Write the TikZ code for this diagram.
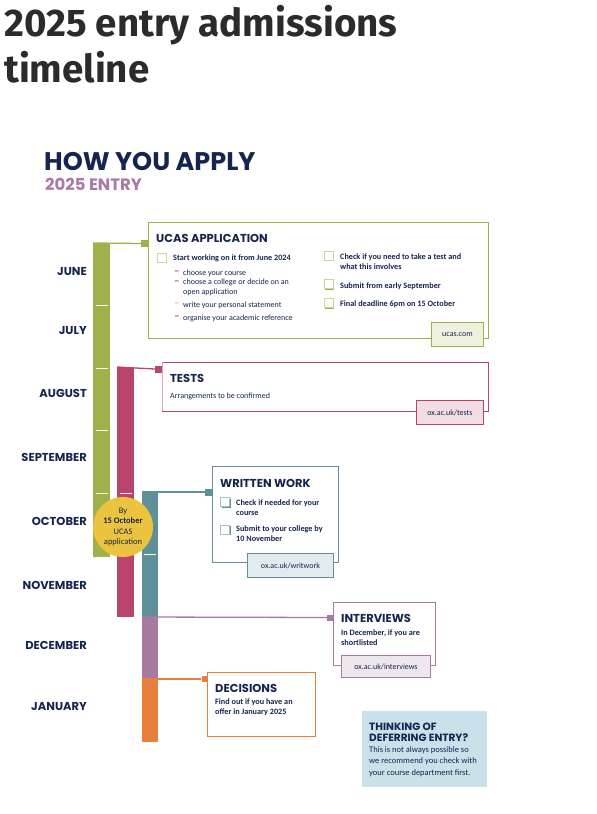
\documentclass[tikz,border=0pt]{standalone}
\usepackage{fontspec}
\setmainfont{Carlito}
\newfontfamily\headfont{Fira Sans}
\newfontfamily\geofont{Poppins}
\usetikzlibrary{positioning,shadows}
\definecolor{OxNavy}{HTML}{16254F}
\definecolor{OxInk}{HTML}{2B2B2B}
\definecolor{OxGreen}{HTML}{A0B04A}
\definecolor{OxRed}{HTML}{B9446E}
\definecolor{OxTeal}{HTML}{5F8F99}
\definecolor{OxMauve}{HTML}{A77AA2}
\definecolor{OxOrange}{HTML}{E67F3A}
\definecolor{OxYellow}{HTML}{EBC33E}
\definecolor{OxSky}{HTML}{CAE1EA}

\begin{document}
\begin{tikzpicture}[x=1pt, y=-1pt,
  month/.style={anchor=east, inner sep=0pt, text=OxNavy, font=\geofont\bfseries\fontsize{11.5}{12}\selectfont},
  bar/.style={fill=#1, anchor=north west, inner sep=0pt, outer sep=0pt},
  tickline/.style={draw=white, line width=0.9pt},
  panel/.style={draw=#1, line width=0.9pt, fill=white, anchor=north west, inner sep=0pt, outer sep=0pt},
  knob/.style={fill=#1, minimum size=7pt, inner sep=0pt},
  link/.style={draw=#1, line width=1.3pt},
  boxtitle/.style={anchor=base west, inner sep=0pt, text=OxNavy, font=\geofont\bfseries\fontsize{11.5}{12}\selectfont},
  body/.style={anchor=west, inner sep=0pt, align=left, text=OxNavy, font=\fontsize{8}{10}\selectfont},
  boldbody/.style={body, font=\bfseries\fontsize{8.2}{10}\selectfont},
  dashmark/.style={anchor=west, inner sep=0pt, text=#1, font=\bfseries\fontsize{11}{10}\selectfont},
  checkbox/.style={draw=#1!55, line width=0.6pt, fill=white, minimum size=9pt, inner sep=0pt,
    drop shadow={shadow xshift=1.4pt, shadow yshift=-1.4pt, fill=#1, opacity=1}},
  tag/.style={draw=#1, line width=0.9pt, fill=#1!18, anchor=north west, inner sep=0pt, text=OxNavy,
    font=\fontsize{8}{10}\selectfont}
]
\useasboundingbox (0,0) rectangle (597,814);

% heading
\node[anchor=base west, inner sep=0pt, text=OxInk, font=\headfont\bfseries\fontsize{38.5}{46}\selectfont] (headA) at (4,36) {2025 entry admissions};
\node[anchor=base west, inner sep=0pt, text=OxInk, font=\headfont\bfseries\fontsize{38.5}{46}\selectfont] (headB) at (4,82) {timeline};
\node[anchor=base west, inner sep=0pt, text=OxNavy, font=\geofont\bfseries\fontsize{25.5}{27}\selectfont] (apply) at (44,170) {HOW YOU APPLY};
\node[anchor=base west, inner sep=0pt, text=OxMauve, font=\geofont\bfseries\fontsize{16.5}{18}\selectfont] (entry) at (45,190.5) {2025 ENTRY};

% months
\node[month] (jun) at (87,271) {JUNE};
\node[month] (jul) at (87,330) {JULY};
\node[month] (aug) at (87,393) {AUGUST};
\node[month] (sep) at (87,457) {SEPTEMBER};
\node[month] (oct) at (87,521) {OCTOBER};
\node[month] (nov) at (87,585) {NOVEMBER};
\node[month] (dec) at (87,645) {DECEMBER};
\node[month] (jan) at (87,706) {JANUARY};

% panels
\node[panel=OxGreen, minimum width=340pt, minimum height=116pt] (ucas) at (148,222) {};
\node[panel=OxRed, minimum width=326pt, minimum height=49pt] (tests) at (162,362) {};
\draw[OxRed!45, line width=0.9pt] (tests.north west) -- (tests.south west);
\node[panel=OxTeal, minimum width=126pt, minimum height=96pt] (written) at (212,466) {};
\node[panel=OxMauve, minimum width=102pt, minimum height=63pt] (interview) at (333,602) {};
\node[panel=OxOrange, minimum width=108pt, minimum height=64pt] (decision) at (207,672) {};
\node[fill=OxSky, anchor=north west, inner sep=0pt, minimum width=125pt, minimum height=76pt] (defer) at (362,711) {};

% tags
\node[tag=OxGreen, minimum width=52pt, minimum height=24pt] (ucastag) at (431,322) {ucas.com};
\node[tag=OxRed, minimum width=67pt, minimum height=24pt] (teststag) at (416,400) {ox.ac.uk/tests};
\node[tag=OxTeal, minimum width=86pt, minimum height=24pt] (writtentag) at (247,553) {ox.ac.uk/writwork};
\node[tag=OxMauve, minimum width=89pt, minimum height=22pt] (interviewtag) at (341,655) {ox.ac.uk/interviews};

% bars
\node[bar=OxGreen, minimum width=17pt, minimum height=314pt] (gbar) at (93,243) {};
\node[bar=OxRed, minimum width=17pt, minimum height=250pt] (rbar) at (117,367) {};
\node[bar=OxTeal, minimum width=16pt, minimum height=125pt] (tbar) at (142,492) {};
\node[bar=OxMauve, minimum width=16pt, minimum height=62pt] (mbar) at (142,617) {};
\node[bar=OxOrange, minimum width=16pt, minimum height=63pt] (obar) at (142,679) {};
\foreach \y in {305,368,430,493}
  \draw[tickline] (95.5,\y) -- (107.5,\y);
\draw[tickline] (119.5,493) -- (131.5,493);
\draw[tickline] (144,554) -- (156,554);

% connectors
\node[knob=OxGreen] (ucasdot) at (144.5,243.5) {};
\node[knob=OxRed] (testsdot) at (158.5,369) {};
\node[knob=OxTeal] (writtendot) at (208.5,492) {};
\node[knob=OxMauve, minimum size=6pt] (interviewdot) at (330,617.5) {};
\node[knob=OxOrange, minimum size=6pt] (decisiondot) at (204.5,679) {};
\draw[link=OxGreen] (gbar.north west) -- (ucasdot.west);
\draw[link=OxRed] (rbar.north west) -- (testsdot.west);
\draw[link=OxTeal] (tbar.north west) -- (writtendot.west);
\draw[link=OxMauve] (mbar.north west) -- (interviewdot.west);
\draw[link=OxOrange] (obar.north west) -- (decisiondot.west);

% deadline badge
\node[circle, fill=OxYellow, minimum size=60pt, inner sep=0pt, align=center, text=OxNavy,
  font=\fontsize{8.5}{10.5}\selectfont] (deadline) at (123,527)
  {By\\\textbf{15 October}\\UCAS\\application};

% UCAS application
\node[boxtitle] (ucastitle) at (156,242.5) {UCAS APPLICATION};
\node[checkbox=OxGreen] (ucasboxA) at (161.5,257.5) {};
\node[boldbody] (ucasitemA) at (173,258) {Start working on it from June 2024};
\node[dashmark=OxRed] at (174,273) {\textendash};
\node[body] (ucassubA) at (183,273) {choose your course};
\node[dashmark=OxRed] at (174,283) {\textendash};
\node[body, anchor=north west] (ucassubB) at (183,278.5) {choose a college or decide on an\\open application};
\node[dashmark=OxRed!45] at (174,305) {\textendash};
\node[body] (ucassubC) at (183,305) {write your personal statement};
\node[dashmark=OxRed] at (174,318) {\textendash};
\node[body] (ucassubD) at (183,318) {organise your academic reference};
\node[checkbox=OxGreen] (ucasboxB) at (328.5,255.5) {};
\node[boldbody] (ucasitemB) at (340,262) {Check if you need to take a test and\\what this involves};
\node[checkbox=OxGreen] (ucasboxC) at (328.5,284) {};
\node[boldbody] (ucasitemC) at (340,286) {Submit from early September};
\node[checkbox=OxGreen] (ucasboxD) at (328.5,303) {};
\node[boldbody] (ucasitemD) at (340,304) {Final deadline 6pm on 15 October};

% tests
\node[boxtitle] (teststitle) at (170,382) {TESTS};
\node[body] (testsnote) at (170,396) {Arrangements to be confirmed};

% written work
\node[boxtitle] (writtentitle) at (220,487) {WRITTEN WORK};
\node[checkbox=OxTeal] (writtenboxA) at (225,502) {};
\node[boldbody] (writtenitemA) at (236,507.5) {Check if needed for your\\course};
\node[checkbox=OxTeal] (writtenboxB) at (225,529.5) {};
\node[boldbody] (writtenitemB) at (236,534) {Submit to your college by\\10 November};

% interviews
\node[boxtitle] (interviewtitle) at (341,622) {INTERVIEWS};
\node[boldbody] (interviewnote) at (341,638) {In December, if you are\\shortlisted};

% decisions
\node[boxtitle] (decisiontitle) at (215,692) {DECISIONS};
\node[boldbody] (decisionnote) at (215,707.5) {Find out if you have an\\offer in January 2025};

% deferring
\node[anchor=north west, inner sep=0pt, align=left, text=OxNavy,
  font=\geofont\bfseries\fontsize{10.5}{11}\selectfont] (defertitle) at (369,723)
  {THINKING OF\\DEFERRING ENTRY?};
\node[inner sep=0pt, align=left, text=OxNavy, font=\fontsize{8.5}{11.5}\selectfont,
  below=4pt of defertitle.south west, anchor=north west] (defernote)
  {This is not always possible so\\we recommend you check with\\your course department first.};
\end{tikzpicture}
\end{document}
